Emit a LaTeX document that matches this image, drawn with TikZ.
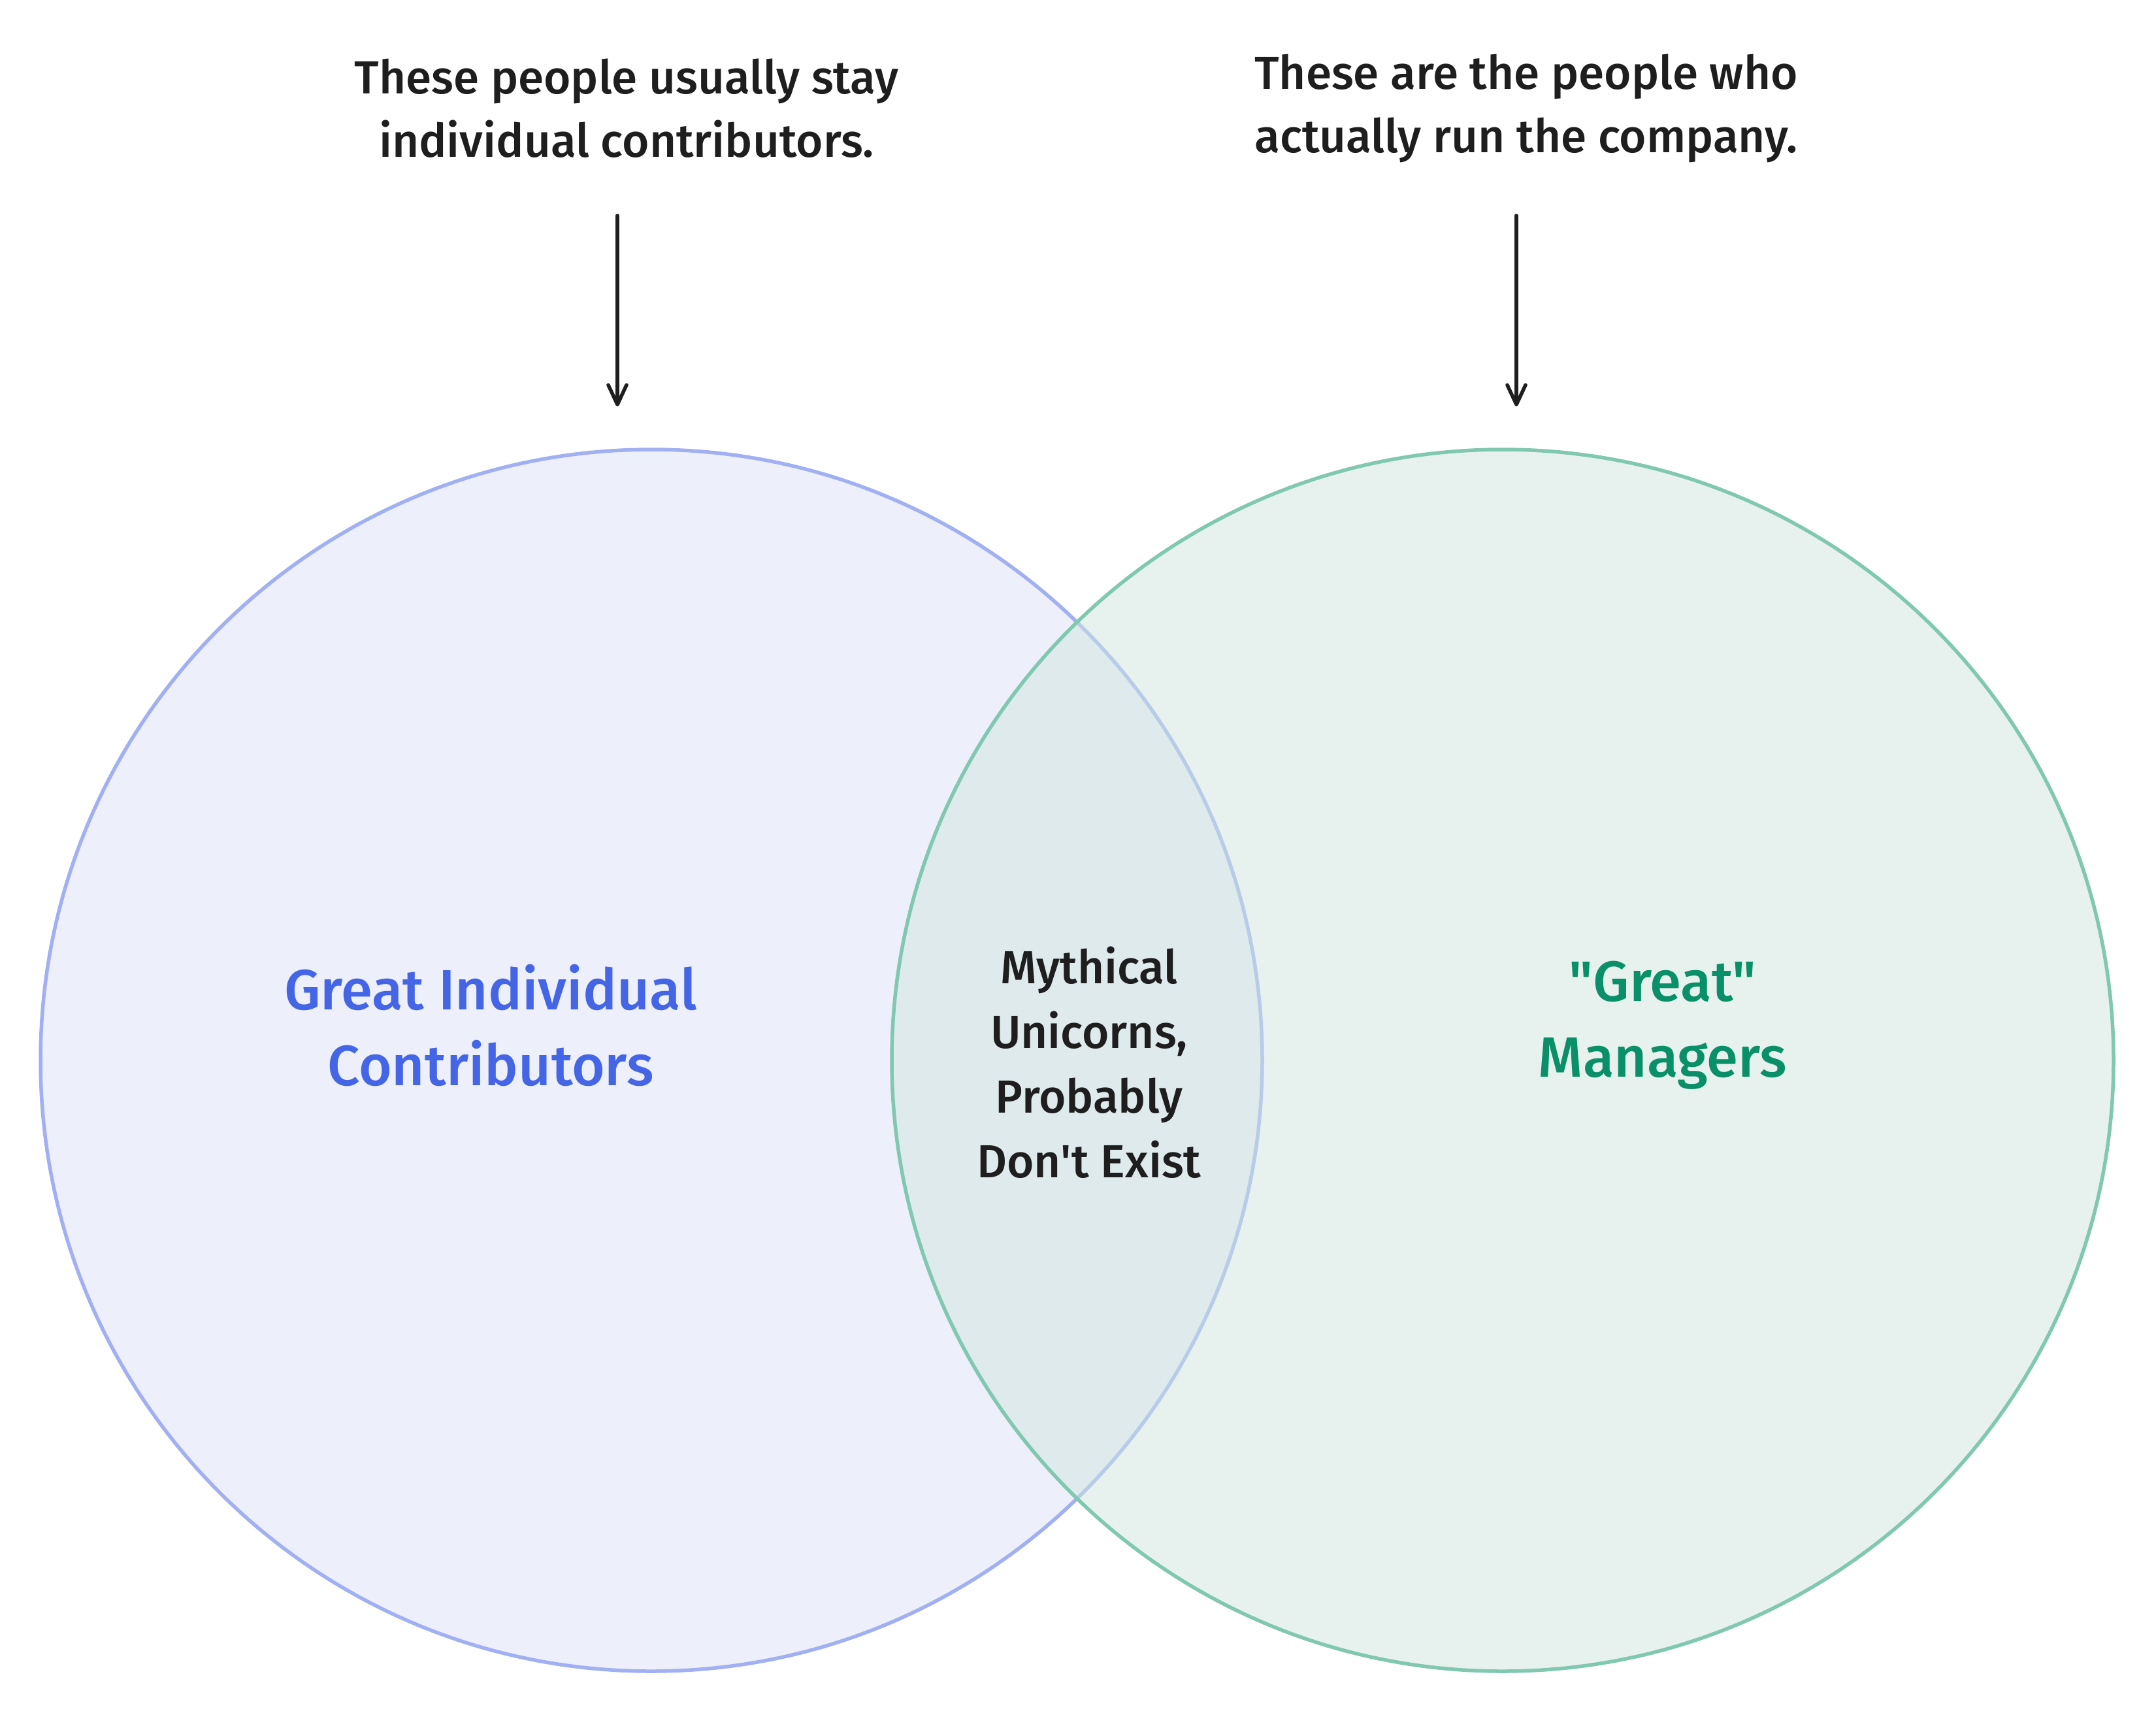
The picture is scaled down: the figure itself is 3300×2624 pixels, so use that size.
\documentclass[tikz,border=0pt]{standalone}
\usepackage{fontspec}
\setmainfont{Fira Sans}[UprightFont={* Medium}, Ligatures=TeXOff]
\usetikzlibrary{arrows.meta}
\definecolor{ink}{HTML}{1E1E1E}
\definecolor{icfill}{HTML}{EDEFFA}
\definecolor{icline}{HTML}{A0B0F2}
\definecolor{ictext}{HTML}{4466E6}
\definecolor{mgfill}{HTML}{D1E7DF}
\definecolor{mgline}{HTML}{80C8B0}
\definecolor{mgtext}{HTML}{0A9068}
\tikzset{
  note/.style={text=ink, align=center, font=\fontsize{71}{97}\selectfont},
  midtext/.style={text=ink, align=center, font=\fontsize{71}{99}\selectfont},
  biglabel/.style={align=center, font=\fontsize{87}{116}\selectfont},
  setcircle/.style={circle, minimum size=1870pt, inner sep=0pt, line width=5.5pt},
  pointer/.style={draw=ink, line width=5.5pt, line cap=round, -{Straight Barb[length=30pt,width=28pt,line cap=round,line join=round]}}
}
\begin{document}
\begin{tikzpicture}[x=1pt,y=-1pt]
\useasboundingbox (0,0) rectangle (3300,2624);
\fill[white] (0,0) rectangle (3300,2624);
\node[setcircle, fill=icfill, draw=icline] (ic) at (997,1623) {};
\node[setcircle, fill=mgfill, fill opacity=0.5, draw=mgline] (mg) at (2300,1623) {};
\node[note] (lnote) at (959,166) {These people usually stay\\individual contributors.};
\node[note] (rnote) at (2336,166) {These are the people who\\actually run the company.};
\coordinate (la) at (945,330);
\coordinate (lb) at (945,622);
\coordinate (ra) at (2321,330);
\coordinate (rb) at (2321,622);
\draw[pointer] (la) -- (lb);
\draw[pointer] (ra) -- (rb);
\node[biglabel, text=ictext] (iclabel) at (751,1569) {Great Individual\\Contributors};
\node[biglabel, text=mgtext] (mglabel) at (2545,1569) {"Great"\\Managers};
\node[midtext] (mid) at (1667,1626) {Mythical\\Unicorns,\\Probably\\Don't Exist};
\end{tikzpicture}
\end{document}
